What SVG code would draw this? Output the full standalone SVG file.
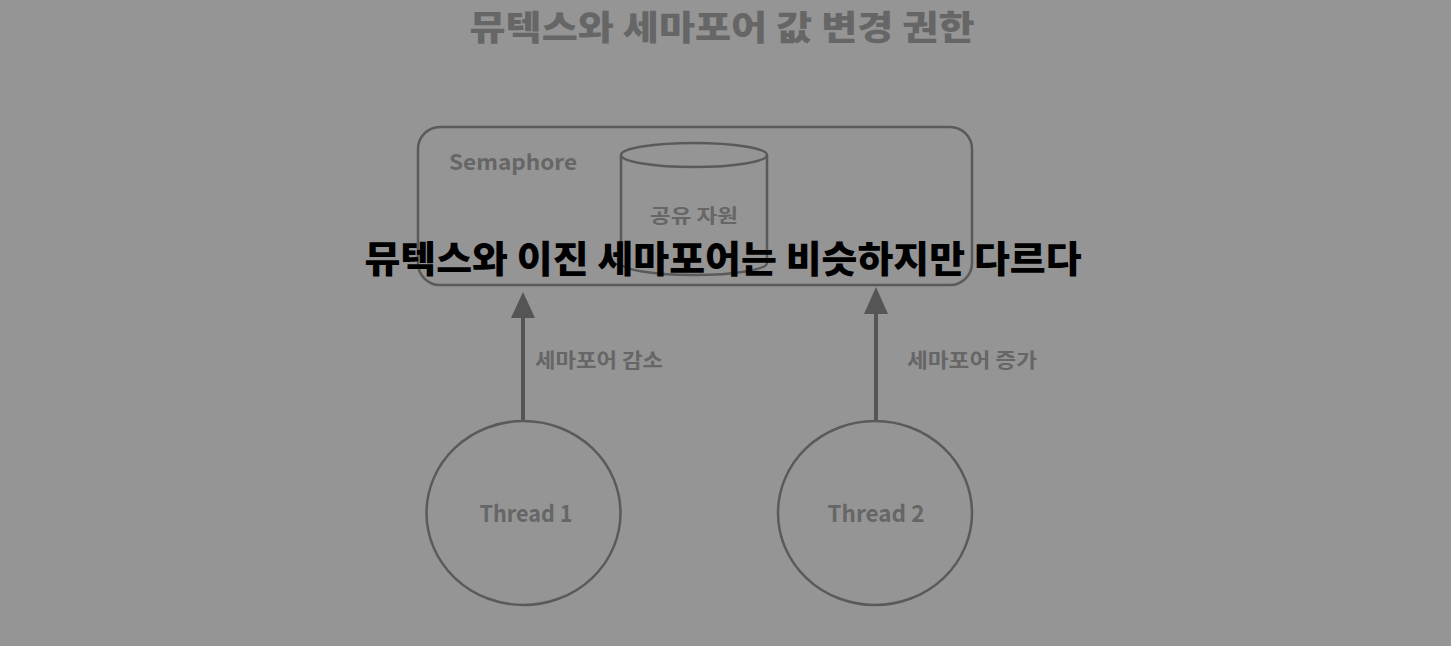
<svg xmlns="http://www.w3.org/2000/svg" width="1451" height="646" viewBox="0 0 1451 646">
<defs>
<style>
.bg{fill:#959595}
.shape{fill:none;stroke:#5a5a5a;stroke-width:2.5}
.lbl{font-family:"Noto Sans CJK KR","Noto Sans",sans-serif;font-weight:700;fill:#666666}
.title{font-family:"Noto Sans CJK KR",sans-serif;font-weight:900;fill:#666666;font-size:34px}
.sub{font-family:"Noto Sans CJK KR",sans-serif;font-weight:900;fill:#000000;font-size:37px}
.conn{stroke:#555555;stroke-width:4;fill:none}
.head{fill:#555555}
</style>
</defs>
<rect class="bg" x="0" y="0" width="1451" height="646"/>
<text class="title" x="722" y="40" text-anchor="middle" textLength="505" lengthAdjust="spacingAndGlyphs">뮤텍스와 세마포어 값 변경 권한</text>
<g id="semaphore">
<rect class="shape" x="418" y="127" width="554" height="158" rx="22"/>
<text class="lbl" x="449" y="170" font-size="21" textLength="128" lengthAdjust="spacingAndGlyphs">Semaphore</text>
</g>
<g id="resource">
<path class="shape" d="M621,155 L621,263 A73,12 0 0 0 767,263 L767,155"/>
<ellipse class="shape" cx="694" cy="155" rx="73" ry="12"/>
<text class="lbl" x="694" y="223" font-size="19" text-anchor="middle" textLength="88" lengthAdjust="spacingAndGlyphs">공유 자원</text>
</g>
<g id="connectors">
<line class="conn" x1="523" y1="421" x2="523" y2="317"/>
<path class="head" d="M511,318 L523,292 L535,318 Z"/>
<line class="conn" x1="876" y1="421" x2="876" y2="313"/>
<path class="head" d="M864,314 L876,287 L888,314 Z"/>
<text class="lbl" x="535" y="368" font-size="20" textLength="128" lengthAdjust="spacingAndGlyphs">세마포어 감소</text>
<text class="lbl" x="907" y="368" font-size="20" textLength="130" lengthAdjust="spacingAndGlyphs">세마포어 증가</text>
</g>
<g id="thread1">
<ellipse class="shape" cx="523.5" cy="513" rx="97" ry="92"/>
<text class="lbl" x="526" y="522" font-size="23" text-anchor="middle" textLength="93" lengthAdjust="spacingAndGlyphs">Thread 1</text>
</g>
<g id="thread2">
<ellipse class="shape" cx="875" cy="513" rx="97" ry="92"/>
<text class="lbl" x="876" y="522" font-size="23" text-anchor="middle" textLength="97" lengthAdjust="spacingAndGlyphs">Thread 2</text>
</g>
<text class="sub" x="723" y="273" text-anchor="middle" textLength="717" lengthAdjust="spacingAndGlyphs">뮤텍스와 이진 세마포어는 비슷하지만 다르다</text>
</svg>
